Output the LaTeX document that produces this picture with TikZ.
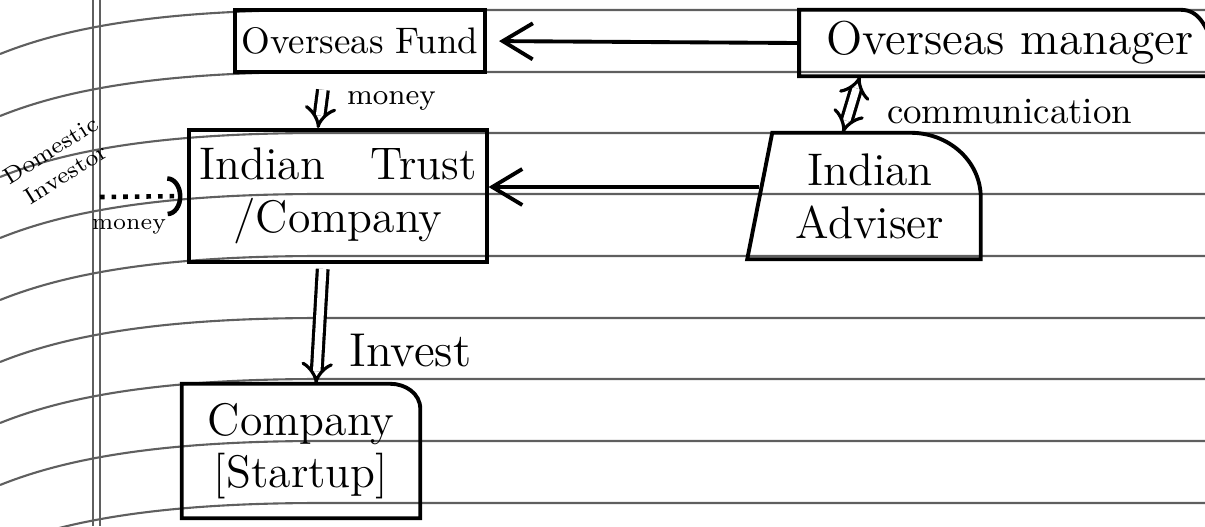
\documentclass[tikz,border=0pt]{standalone}
\definecolor{ruleline}{RGB}{95, 95, 95}
\usetikzlibrary{arrows.meta, positioning, calc}

\begin{document}
\begin{tikzpicture}[x=0.01cm, y=-0.01cm,
  pen/.style={line width=1.1pt},
  ruled/.style={ruleline, line width=0.6pt},
  box/.style={align=center, inner sep=0pt},
  dbl/.style={double, double distance=0.75mm, line width=0.9pt, -{Implies}},
  barb/.style={pen, -{Straight Barb[length=3mm, width=3.6mm]}},
  lbl/.style={inner sep=0pt}]
  \useasboundingbox (0,0) rectangle (1205,526);

  % ruled paper
  \foreach \y in {10,72,133,194,256,318,379,441,503}
    \draw[ruled] (0,\y+44) .. controls (60,\y+20) and (150,\y) .. (320,\y) -- (1205,\y);
  \draw[ruled] (93,0) -- (93,526) (100,0) -- (100,526);

  \node[box, draw, line width=1.1pt, minimum width=2.5cm, minimum height=0.62cm, font=\fontsize{10.5}{12}\selectfont] (fund) at (360,41) {Overseas Fund};
  \node[box, minimum width=4.2cm, minimum height=0.65cm, font=\fontsize{13.5}{15}\selectfont] (mgr) at (1010,43) {Overseas manager};
  \node[box, draw, line width=1.1pt, minimum width=2.97cm, minimum height=1.32cm, font=\fontsize{13}{15}\selectfont] (trust) at (338,196) {Indian\quad Trust\\/Company};
  \node[box, minimum width=2.2cm, minimum height=1.25cm, font=\fontsize{13}{15}\selectfont] (adv) at (870,196) {Indian\\Adviser};
  \node[box, minimum width=2.37cm, minimum height=1.33cm, font=\fontsize{13}{15}\selectfont] (comp) at (301,451) {Company\\{[Startup]}};
  \node[lbl, rotate=32, align=center, font=\fontsize{6.6}{8}\selectfont] (inv) at (58,162) {Domestic\\Investor};
  \coordinate (dom) at (100,197);

  \draw[pen] (mgr.south east) -- (mgr.south west) -- (mgr.north west) -- ([xshift=-4mm]mgr.north east) to[out=0, in=115] ([xshift=-0.5mm, yshift=-4mm]mgr.north east);
  \draw[pen] ([xshift=1.3mm]adv.north west) -- ([xshift=-7mm]adv.north east) to[out=0, in=90] ([yshift=-6.5mm]adv.north east) -- (adv.south east) -- ([xshift=-1.2mm]adv.south west) -- cycle;
  \draw[pen] (comp.south west) -- (comp.north west) -- ([xshift=-3mm]comp.north east) to[out=0, in=90] ([yshift=-2.5mm]comp.north east) -- (comp.south east) -- cycle;

  \draw[barb, shorten >=1.2mm] (mgr.west) -- (fund.east);
  \draw[barb] ([yshift=0.9mm]adv.west) -- ([yshift=0.9mm]trust.east);
  \draw[dbl, shorten <=1.6mm] ([xshift=-3.5mm]fund.south) -- node[lbl, right=2.4mm, font=\fontsize{8.3}{9}\selectfont] {money} ([xshift=-2mm]trust.north);
  \draw[dbl, shorten <=0.5mm] ([xshift=-1.5mm]trust.south) -- node[lbl, right=3mm, pos=0.72, font=\fontsize{13.5}{15}\selectfont] {Invest} ([xshift=1.5mm]comp.north);
  \draw[dbl, {Implies}-{Implies}] ([xshift=-15mm]mgr.south) -- node[lbl, right=3.6mm, pos=0.62, font=\fontsize{10.5}{12}\selectfont] {communication} ([xshift=-2.7mm]adv.north);
  \draw[line width=1.3pt, dotted, -{Arc Barb[length=1.5mm, width=4mm]}, shorten >=0.5mm] (dom) -- node[lbl, below=2mm, pos=0.33, font=\fontsize{6.5}{7}\selectfont] {money} (trust.west);
\end{tikzpicture}
\end{document}
